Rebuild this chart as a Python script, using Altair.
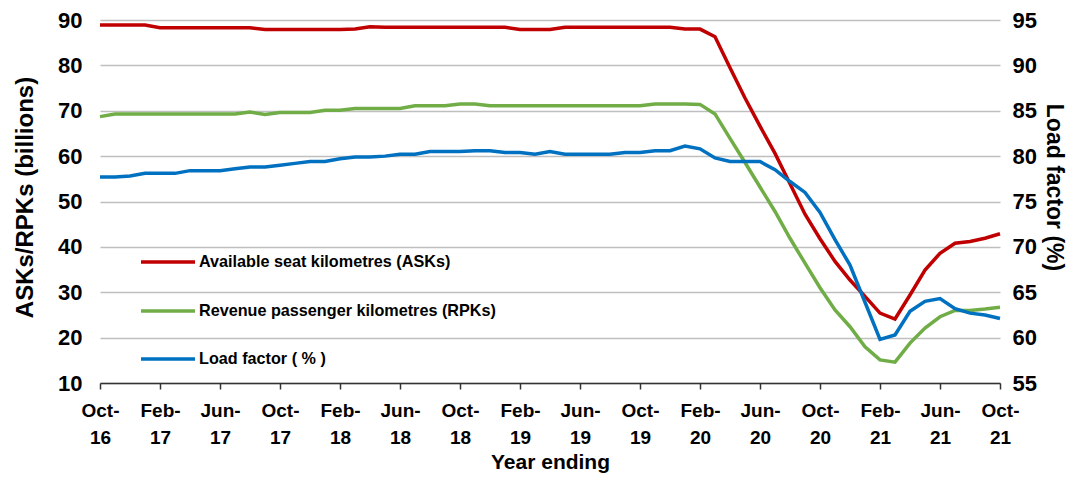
import altair as alt
import pandas as pd

FONT = "Liberation Sans"

months = [d.strftime("%b-%y") for d in pd.date_range("2016-10-01", periods=61, freq="MS")]

asks = [88.9, 88.9, 88.9, 88.9, 88.3, 88.3, 88.3, 88.3, 88.3, 88.3,
        88.3, 87.9, 87.9, 87.9, 87.9, 87.9, 87.9, 88.0, 88.5, 88.4,
        88.4, 88.4, 88.4, 88.4, 88.4, 88.4, 88.4, 88.4, 87.9, 87.9,
        87.9, 88.4, 88.4, 88.4, 88.4, 88.4, 88.4, 88.4, 88.4, 88.0,
        88.0, 86.3, 79.5, 72.8, 66.6, 60.6, 53.9, 47.2, 41.8, 36.8,
        32.7, 29.1, 25.4, 24.1, 29.4, 34.9, 38.6, 40.8, 41.2, 41.9,
        42.9]

rpks = [68.7, 69.3, 69.3, 69.3, 69.3, 69.3, 69.3, 69.3, 69.3, 69.3,
        69.7, 69.2, 69.6, 69.6, 69.6, 70.1, 70.1, 70.5, 70.5, 70.5,
        70.5, 71.1, 71.1, 71.1, 71.5, 71.5, 71.1, 71.1, 71.1, 71.1,
        71.1, 71.1, 71.1, 71.1, 71.1, 71.1, 71.1, 71.5, 71.5, 71.5,
        71.4, 69.3, 63.9, 58.6, 53.2, 47.8, 41.9, 36.4, 31.0, 26.1,
        22.4, 18.0, 15.1, 14.6, 18.8, 22.1, 24.6, 26.0, 26.0, 26.3,
        26.7]

load_factor = [77.7, 77.7, 77.8, 78.1, 78.1, 78.1, 78.4, 78.4, 78.4, 78.6,
               78.8, 78.8, 79.0, 79.2, 79.4, 79.4, 79.7, 79.9, 79.9, 80.0,
               80.2, 80.2, 80.5, 80.5, 80.5, 80.6, 80.6, 80.4, 80.4, 80.2,
               80.5, 80.2, 80.2, 80.2, 80.2, 80.4, 80.4, 80.6, 80.6, 81.1,
               80.8, 79.8, 79.4, 79.4, 79.4, 78.5, 77.2, 76.0, 73.8, 70.8,
               68.0, 63.9, 59.8, 60.3, 62.9, 64.0, 64.3, 63.2, 62.7, 62.5,
               62.1]

series_names = ["Available seat kilometres (ASKs)",
                "Revenue passenger kilometres (RPKs)",
                "Load factor ( % )"]
colors = ["#C00000", "#70AD47", "#0070C0"]
left_ticks = [10, 20, 30, 40, 50, 60, 70, 80, 90]
right_ticks = [55, 60, 65, 70, 75, 80, 85, 90, 95]
tick_months = months[::4]

df = pd.DataFrame({"month": months, series_names[0]: asks,
                   series_names[1]: rpks, series_names[2]: load_factor})
left_df = df.melt(id_vars="month", value_vars=series_names[:2],
                  var_name="series", value_name="value")

x_enc = alt.X(
    "month:O", sort=months, title="Year ending",
    scale=alt.Scale(type="point", padding=0),
    axis=alt.Axis(
        values=tick_months, labelAngle=0,
        labelExpr="[split(datum.label, '-')[0] + '-', split(datum.label, '-')[1]]",
        labelFont=FONT, labelFontSize=19, labelFontWeight="bold", labelColor="black",
        labelLineHeight=27, labelPadding=12,
        tickSize=6, tickColor="#333333", domainColor="#333333", domainWidth=1.5, tickWidth=1.5,
        titleFont=FONT, titleFontSize=21, titleFontWeight="bold", titleColor="black",
        titlePadding=4, grid=False,
    ),
)

left = alt.Chart(left_df).mark_line(strokeWidth=3.5).encode(
    x=x_enc,
    y=alt.Y("value:Q", title="ASKs/RPKs (billions)",
            scale=alt.Scale(domain=[10, 90], nice=False, zero=False),
            axis=alt.Axis(values=left_ticks, orient="left", tickSize=0, domain=False,
                          labelFont=FONT, labelFontSize=22, labelFontWeight="bold",
                          labelColor="black", labelPadding=18,
                          gridColor="#BFBFBF", gridWidth=1.5,
                          titleFont=FONT, titleFontSize=24, titleFontWeight="bold",
                          titleColor="black", titlePadding=20, titleY=177)),
    color=alt.Color("series:N", scale=alt.Scale(domain=series_names, range=colors), legend=None),
)

right = alt.Chart(df).mark_line(strokeWidth=3.5, color=colors[2]).encode(
    x=x_enc,
    y=alt.Y(f"{series_names[2]}:Q", title="Load factor (%)",
            scale=alt.Scale(domain=[55, 95], nice=False, zero=False),
            axis=alt.Axis(values=right_ticks, orient="right", tickSize=0, domain=False,
                          grid=False,
                          labelFont=FONT, labelFontSize=22, labelFontWeight="bold",
                          labelColor="black", labelPadding=12,
                          titleFont=FONT, titleFontSize=23, titleFontWeight="bold",
                          titleColor="black", titlePadding=5, titleY=167)),
)

legend_layers = []
legend_y = [242, 291, 339]
for name, col, ly in zip(series_names, colors, legend_y):
    ldf = pd.DataFrame({"label": [name]})
    legend_layers.append(
        alt.Chart(ldf).mark_rule(strokeWidth=3.5, color=col).encode(
            x=alt.value(41), x2=alt.value(95), y=alt.value(ly))
    )
    legend_layers.append(
        alt.Chart(ldf).mark_text(align="left", baseline="middle", font=FONT,
                                 fontSize=16.2, fontWeight="bold", color="black").encode(
            x=alt.value(99), y=alt.value(ly), text="label:N")
    )

chart = alt.layer(left, right, *legend_layers).resolve_scale(
    y="independent"
).properties(
    width=900, height=363,
    autosize=alt.AutoSizeParams(type="none"),
    padding={"left": 92, "top": 12, "right": 72, "bottom": 99},
).configure_view(stroke=None)

chart.save("out.html", embed_options={"renderer": "svg", "actions": False})
